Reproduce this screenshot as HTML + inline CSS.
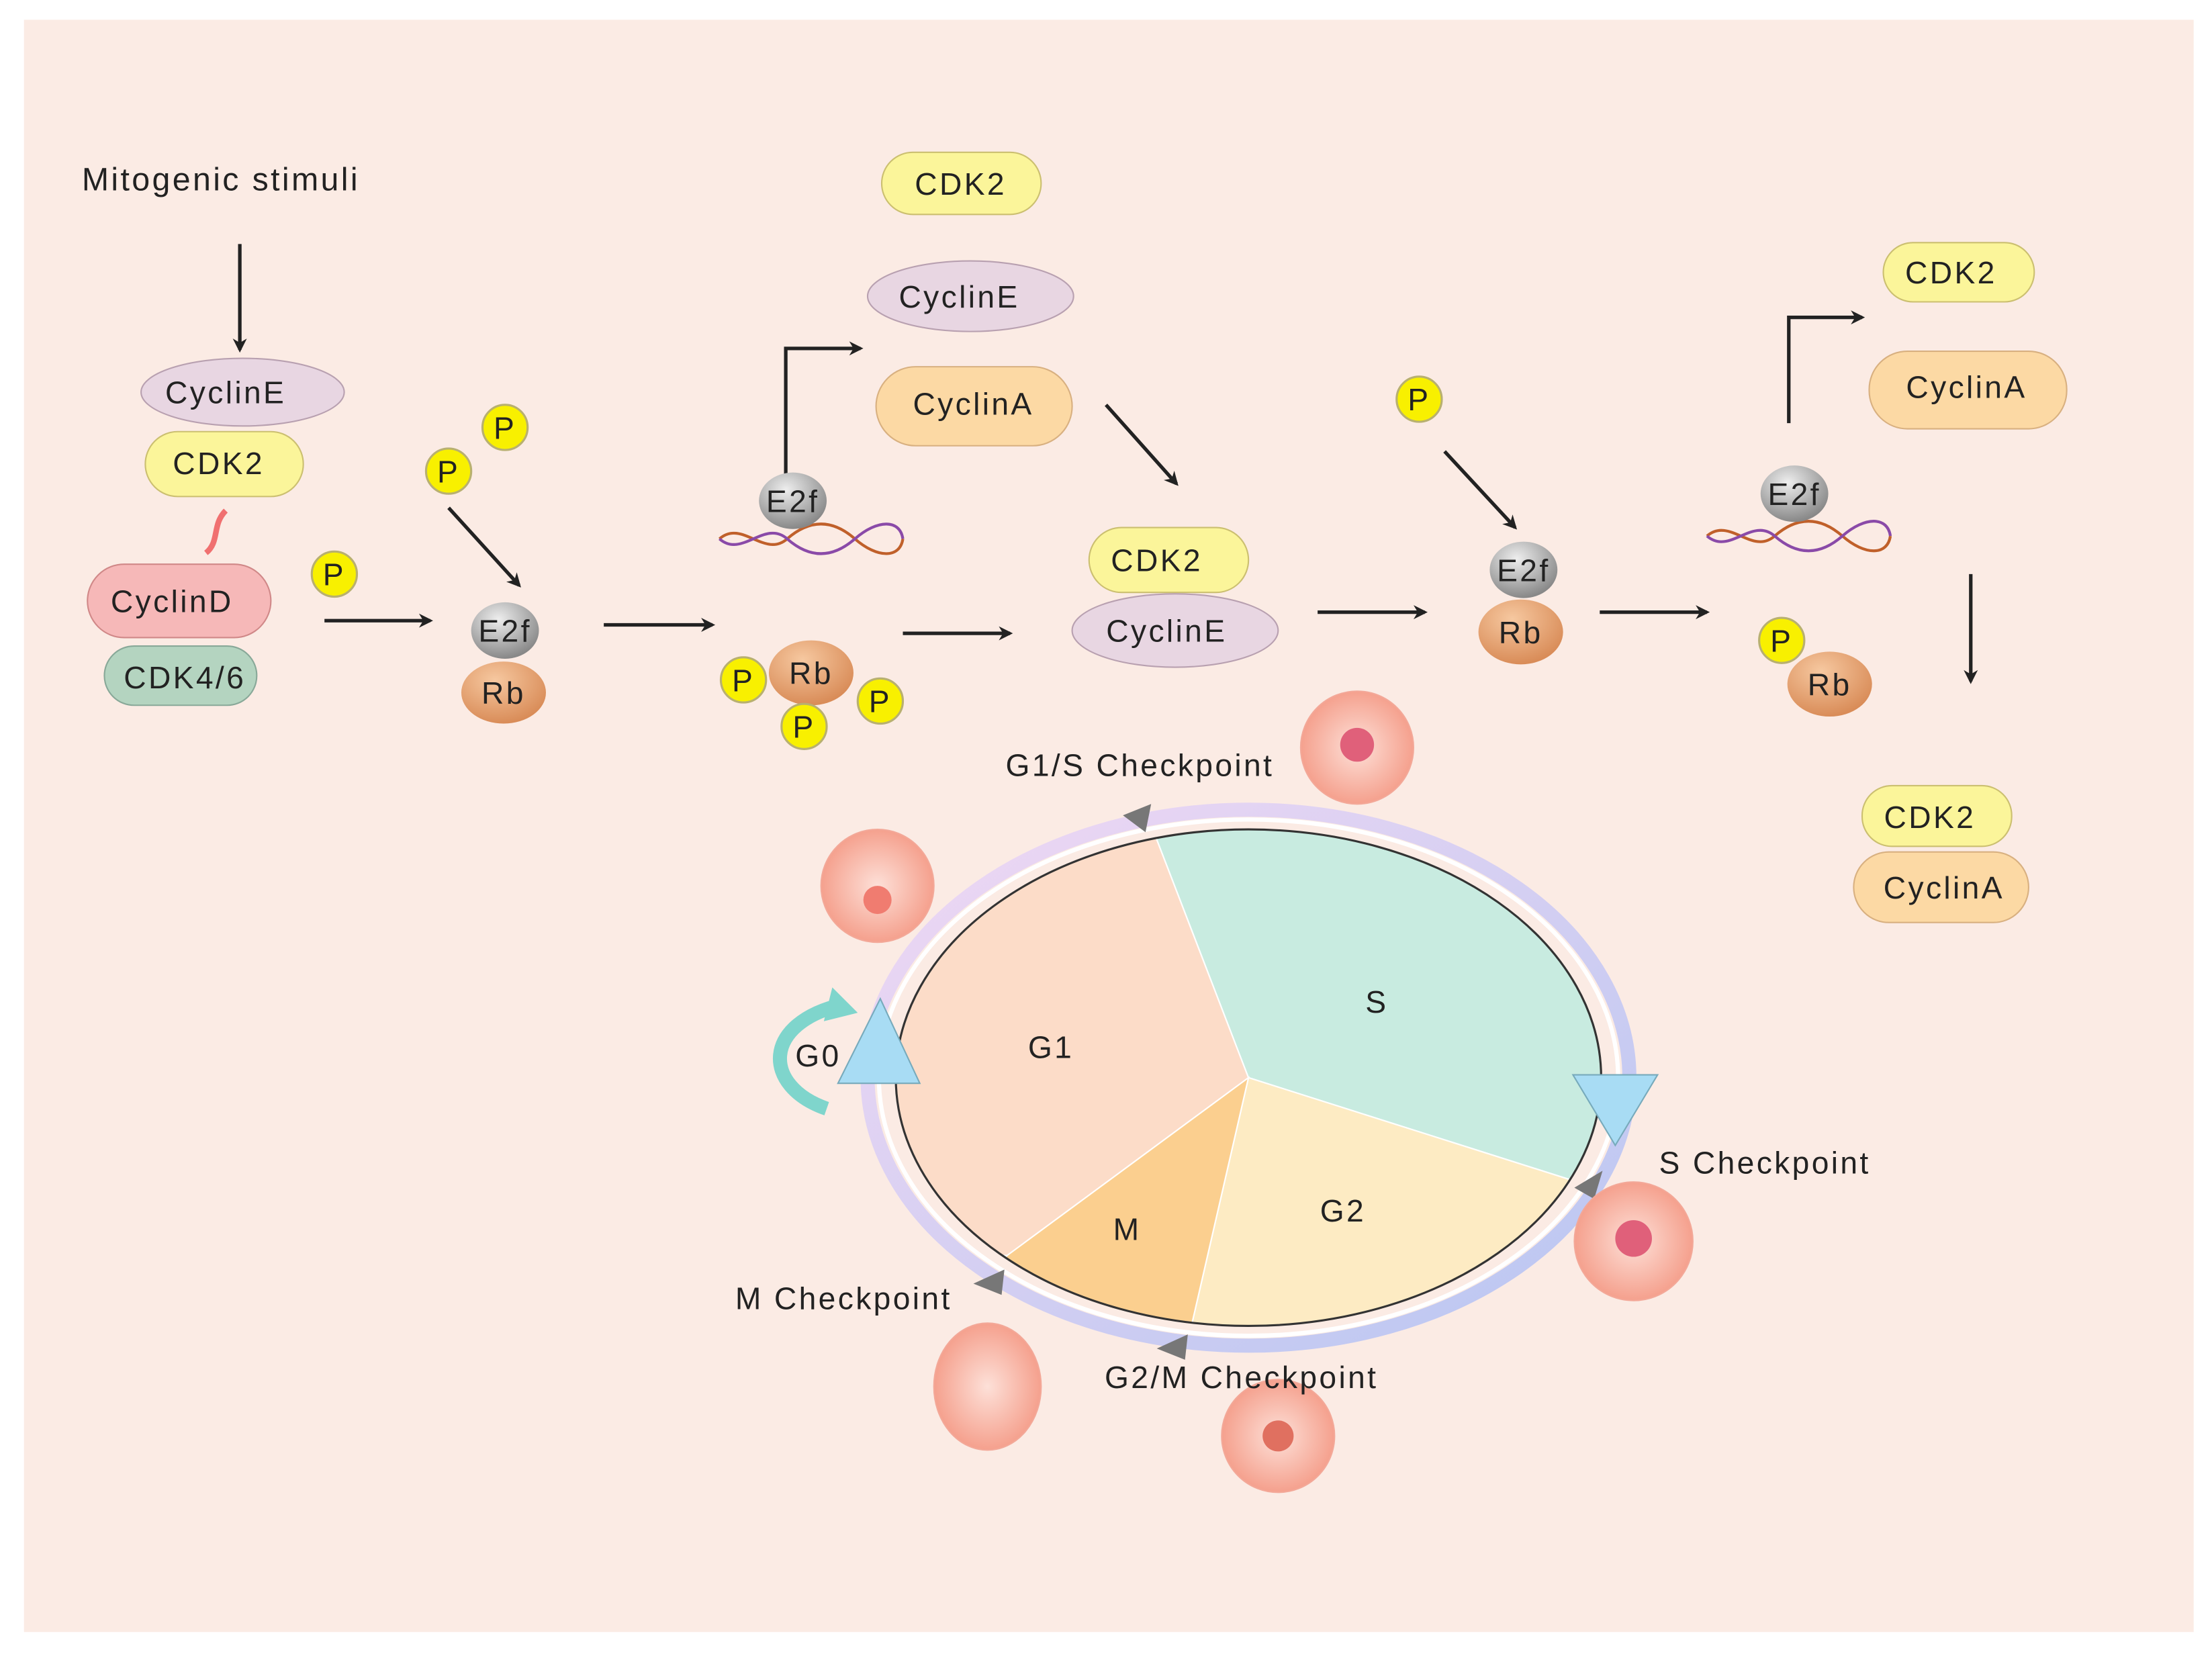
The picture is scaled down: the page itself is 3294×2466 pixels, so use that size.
<!DOCTYPE html>
<html><head><meta charset="utf-8"><style>
html,body{margin:0;padding:0;background:#fff;}
svg{display:block;}
text{font-family:"Liberation Sans",sans-serif;fill:#222;letter-spacing:1.6px;}
</style></head><body>
<svg width="3294" height="2466" viewBox="0 0 1568 1174" preserveAspectRatio="none" xmlns="http://www.w3.org/2000/svg">
<defs>
<marker id="ah" markerWidth="10" markerHeight="10" refX="8" refY="5" orient="auto" markerUnits="userSpaceOnUse"><path d="M0,0 L10,5 L0,10 L3,5z" fill="#222"/></marker>
<radialGradient id="gy" cx="40%" cy="30%" r="70%"><stop offset="0" stop-color="#eee"/><stop offset="1" stop-color="#888"/></radialGradient>
<radialGradient id="go" cx="40%" cy="30%" r="70%"><stop offset="0" stop-color="#f6c8a0"/><stop offset="1" stop-color="#d98c58"/></radialGradient>
<radialGradient id="cell" cx="50%" cy="50%" r="55%"><stop offset="0" stop-color="#fde0d8"/><stop offset="1" stop-color="#f49a86"/></radialGradient>
<linearGradient id="ring" x1="0" y1="0" x2="1" y2="1"><stop offset="0" stop-color="#f1d8f3"/><stop offset="1" stop-color="#b8c6f2"/></linearGradient>
<g id="dna"><path d="M0,0 C16,-14 32,14 48,0 S80,-14 96,0 S128,14 130,0" stroke="#c0602a" stroke-width="2" fill="none"/><path d="M0,0 C16,14 32,-14 48,0 S80,14 96,0 S128,-14 130,0" stroke="#8a4aa8" stroke-width="2" fill="none"/></g>
</defs>
<rect x="17" y="14" width="1538" height="1143" fill="#fbebe4"/>
<text x="58" y="135" font-size="23">Mitogenic stimuli</text>
<g stroke="#222" stroke-width="2.5" fill="none" marker-end="url(#ah)">
<line x1="170" y1="173" x2="170" y2="248"/>
<line x1="230" y1="440" x2="305" y2="440"/>
<line x1="318" y1="360" x2="368" y2="415"/>
<line x1="428" y1="443" x2="505" y2="443"/>
<polyline points="557,352 557,247 610,247"/>
<line x1="784" y1="287" x2="834" y2="343"/>
<line x1="640" y1="449" x2="716" y2="449"/>
<line x1="934" y1="434" x2="1010" y2="434"/>
<line x1="1024" y1="320" x2="1074" y2="374"/>
<line x1="1134" y1="434" x2="1210" y2="434"/>
<polyline points="1268,300 1268,225 1320,225"/>
<line x1="1397" y1="407" x2="1397" y2="483"/>
</g>
<g font-size="22" text-anchor="middle">
<ellipse cx="172" cy="278" rx="72" ry="24" fill="#e8d6e2" stroke="#b8a0b0"/><text x="160" y="286">CyclinE</text>
<rect x="103" y="306" width="112" height="46" rx="23" fill="#fbf59a" stroke="#cbbf70"/><text x="155" y="336">CDK2</text>
<path d="M160,362 C150,372 156,384 146,392" stroke="#f07070" stroke-width="4" fill="none"/>
<rect x="62" y="400" width="130" height="52" rx="26" fill="#f6b8b8" stroke="#d08888"/><text x="122" y="434">CyclinD</text>
<rect x="74" y="458" width="108" height="42" rx="21" fill="#b4d4c0" stroke="#88a898"/><text x="131" y="488">CDK4/6</text>

<rect x="625" y="108" width="113" height="44" rx="22" fill="#fbf59a" stroke="#cbbf70"/><text x="681" y="138">CDK2</text>
<ellipse cx="688" cy="210" rx="73" ry="25" fill="#e8d6e2" stroke="#b8a0b0"/><text x="680" y="218">CyclinE</text>
<rect x="621" y="260" width="139" height="56" rx="28" fill="#fcd9a4" stroke="#d8b080"/><text x="690" y="294">CyclinA</text>

<rect x="772" y="374" width="113" height="46" rx="23" fill="#fbf59a" stroke="#cbbf70"/><text x="820" y="405">CDK2</text>
<ellipse cx="833" cy="447" rx="73" ry="26" fill="#e8d6e2" stroke="#b8a0b0"/><text x="827" y="455">CyclinE</text>

<rect x="1335" y="172" width="107" height="42" rx="21" fill="#fbf59a" stroke="#cbbf70"/><text x="1383" y="201">CDK2</text>
<rect x="1325" y="249" width="140" height="55" rx="27" fill="#fcd9a4" stroke="#d8b080"/><text x="1394" y="282">CyclinA</text>
<rect x="1320" y="557" width="106" height="43" rx="21" fill="#fbf59a" stroke="#cbbf70"/><text x="1368" y="587">CDK2</text>
<rect x="1314" y="604" width="124" height="50" rx="25" fill="#fcd9a4" stroke="#d8b080"/><text x="1378" y="637">CyclinA</text>
</g>
<use href="#dna" x="510" y="382"/>
<use href="#dna" x="1210" y="380"/>
<g font-size="22" text-anchor="middle">
<ellipse cx="358" cy="447" rx="24" ry="20" fill="url(#gy)"/><text x="358" y="455">E2f</text>
<ellipse cx="357" cy="491" rx="30" ry="22" fill="url(#go)"/><text x="357" y="499">Rb</text>
<ellipse cx="562" cy="355" rx="24" ry="20" fill="url(#gy)"/><text x="562" y="363">E2f</text>
<ellipse cx="575" cy="477" rx="30" ry="23" fill="url(#go)"/><text x="575" y="485">Rb</text>
<ellipse cx="1080" cy="404" rx="24" ry="20" fill="url(#gy)"/><text x="1080" y="412">E2f</text>
<ellipse cx="1078" cy="448" rx="30" ry="23" fill="url(#go)"/><text x="1078" y="456">Rb</text>
<ellipse cx="1272" cy="350" rx="24" ry="20" fill="url(#gy)"/><text x="1272" y="358">E2f</text>
<ellipse cx="1297" cy="485" rx="30" ry="23" fill="url(#go)"/><text x="1297" y="493">Rb</text>
<g fill="#f8f000" stroke="#b8b070" stroke-width="1.5">
<circle cx="237" cy="407" r="16"/><circle cx="358" cy="303" r="16"/><circle cx="318" cy="334" r="16"/>
<circle cx="527" cy="482" r="16"/><circle cx="624" cy="497" r="16"/><circle cx="570" cy="515" r="16"/>
<circle cx="1006" cy="283" r="16"/><circle cx="1263" cy="454" r="16"/>
</g>
<text x="237" y="415">P</text><text x="358" y="311">P</text><text x="318" y="342">P</text>
<text x="527" y="490">P</text><text x="624" y="505">P</text><text x="570" y="523">P</text>
<text x="1006" y="291">P</text><text x="1263" y="462">P</text>
</g>
<ellipse cx="885" cy="764" rx="270" ry="190" fill="none" stroke="url(#ring)" stroke-width="10"/>
<ellipse cx="885" cy="764" rx="262" ry="183" fill="none" stroke="#fff" stroke-width="3"/>
<clipPath id="ce"><ellipse cx="885" cy="764" rx="250" ry="176"/></clipPath>
<g clip-path="url(#ce)" stroke="#fff" stroke-width="1">
<polygon points="885,764 714,890 500,900 500,500 818,500 818,590" fill="#fcdcc8"/>
<polygon points="885,764 818,590 818,500 1200,500 1200,836 1112,836" fill="#c8ebe0"/>
<polygon points="885,764 1112,836 1200,836 1200,1000 845,1000 845,938" fill="#fdebc3"/>
<polygon points="885,764 845,938 845,1000 600,1000 714,890" fill="#fbcf8f"/>
</g>
<ellipse cx="885" cy="764" rx="250" ry="176" fill="none" stroke="#333" stroke-width="1.5"/>
<polygon points="1115,762 1175,762 1145,812" fill="#a8dcf4" stroke="#7ab" />
<polygon points="594,768 652,768 624,708" fill="#a8dcf4" stroke="#7ab"/>
<path d="M586,786 C540,770 540,725 598,712" stroke="#7fd5cc" stroke-width="10" fill="none"/>
<polygon points="590,700 608,718 584,724" fill="#7fd5cc"/>
<g fill="#777">
<polygon points="796,578 816,570 812,590"/>
<polygon points="1136,830 1116,842 1130,850"/>
<polygon points="690,910 712,900 710,918"/>
<polygon points="820,956 842,946 840,964"/>
</g>
<g fill="url(#cell)" stroke="#f3a898">
<circle cx="962" cy="530" r="40"/><circle cx="622" cy="628" r="40"/><circle cx="1158" cy="880" r="42"/>
<ellipse cx="700" cy="983" rx="38" ry="45"/><circle cx="906" cy="1018" r="40"/>
</g>
<g fill="#e0607a"><circle cx="962" cy="528" r="12"/><circle cx="1158" cy="878" r="13"/><circle cx="622" cy="638" r="10" fill="#f07c70"/><circle cx="906" cy="1018" r="11" fill="#e07060"/></g>
<g font-size="22" text-anchor="middle">
<text x="808" y="550">G1/S Checkpoint</text>
<text x="1251" y="832">S Checkpoint</text>
<text x="598" y="928">M Checkpoint</text>
<text x="880" y="984">G2/M Checkpoint</text>
<text x="745" y="750">G1</text>
<text x="976" y="718">S</text>
<text x="952" y="866">G2</text>
<text x="799" y="879">M</text>
<text x="580" y="756">G0</text>
</g>
</svg>
</body></html>
